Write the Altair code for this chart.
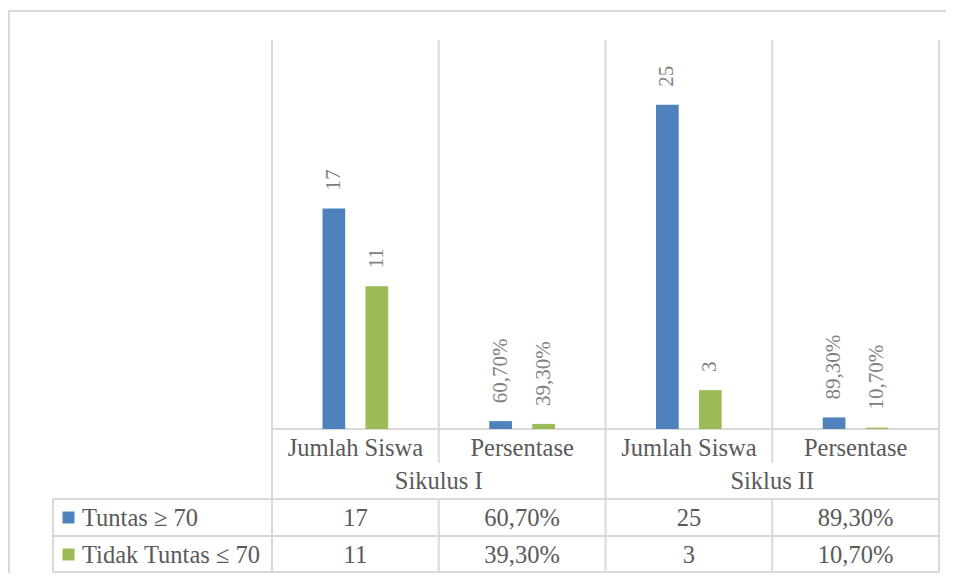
import altair as alt
import pandas as pd

# ---- data ----
siklus = ["Sikulus I", "Siklus II"]
kategori = ["Jumlah Siswa", "Persentase"]
series = ["Tuntas ≥ 70", "Tidak Tuntas ≤ 70"]
colors = ["#4F81BD", "#9BBB59"]
tuntas_values = [17, 0.607, 25, 0.893]
tidak_values = [11, 0.393, 3, 0.107]
tuntas_labels = ["17", "60,70%", "25", "89,30%"]
tidak_labels = ["11", "39,30%", "3", "10,70%"]

keys = [f"{s} | {k}" for s in siklus for k in kategori]
subcats = [k for s in siklus for k in kategori]
groups = [s for s in siklus for k in kategori]

rows = []
for i, key in enumerate(keys):
    for ser, vals, labs in ((series[0], tuntas_values, tuntas_labels),
                            (series[1], tidak_values, tidak_labels)):
        rows.append(dict(key=key, siklus=groups[i], kategori=subcats[i],
                         series=ser, value=vals[i], label=labs[i]))
df = pd.DataFrame(rows)
cats = pd.DataFrame(dict(key=keys, siklus=groups, kategori=subcats))
ser_df = pd.DataFrame(dict(series=series))
one = pd.DataFrame(dict(d=[0]))

# ---- styles ----
FONT = "Liberation Serif"
TXT = "#595959"
LBL = "#808080"
GRID = dict(color="#d9d9d9", strokeWidth=2)

x_scale = alt.Scale(domain=keys, range=[264, 931], paddingInner=0, paddingOuter=0)
y_scale = alt.Scale(domain=[0, 30], range=[421, 32], nice=False, zero=True)
off_scale = alt.Scale(domain=series, range=[50.5, 116.2], paddingInner=0.472, paddingOuter=0)
color_scale = alt.Scale(domain=series, range=colors)
row_scale = alt.Scale(domain=series, range=[491, 565], paddingInner=0, paddingOuter=0)


def X(bp=None):
    if bp is None:
        return alt.X("key:N", scale=x_scale, axis=None)
    return alt.X("key:N", scale=x_scale, axis=None, bandPosition=bp)


XO = alt.XOffset("series:N", scale=off_scale, sort=series)
Y = alt.Y("value:Q", scale=y_scale, axis=None)
ROW = alt.Y("series:N", scale=row_scale, axis=None, sort=series)

# ---- grid / frame lines ----
frame_top = alt.Chart(one).mark_rule(**GRID).encode(
    x=alt.value(0), x2=alt.value(938), y=alt.value(3))
frame_left = alt.Chart(one).mark_rule(**GRID).encode(
    x=alt.value(1), y=alt.value(3), y2=alt.value(565))
vr_upper = alt.Chart(cats).mark_rule(**GRID).encode(
    x=X(0), y=alt.value(32), y2=alt.value(455))
vr_mid = alt.Chart(cats).transform_filter(
    alt.datum.kategori == kategori[0]).mark_rule(**GRID).encode(
    x=X(0), y=alt.value(455), y2=alt.value(491))
vr_table = alt.Chart(cats).mark_rule(**GRID).encode(
    x=X(0), y=alt.value(491), y2=alt.value(565))
vr_end = alt.Chart(cats).transform_filter(
    alt.datum.key == keys[-1]).mark_rule(**GRID).encode(
    x=X(1), y=alt.value(32), y2=alt.value(565))
vr_tbl_left = alt.Chart(one).mark_rule(**GRID).encode(
    x=alt.value(45), y=alt.value(491), y2=alt.value(565))
baseline = alt.Chart(one).mark_rule(**GRID).encode(
    x=alt.value(264), x2=alt.value(931), y=alt.value(421))
hr_rows = alt.Chart(ser_df).mark_rule(**GRID).encode(
    y=alt.Y("series:N", scale=row_scale, axis=None, sort=series, bandPosition=0),
    x=alt.value(45), x2=alt.value(931))
hr_bottom = alt.Chart(one).mark_rule(**GRID).encode(
    y=alt.value(564), x=alt.value(45), x2=alt.value(931))

# ---- bars and labels ----
bars = alt.Chart(df).mark_bar().encode(
    x=X(), xOffset=XO, y=Y,
    color=alt.Color("series:N", scale=color_scale, legend=None))
labels = alt.Chart(df).mark_text(
    angle=270, align="left", baseline="middle", dx=18,
    font=FONT, fontSize=21, color=LBL).encode(
    x=X(), xOffset=XO, y=Y, text="label:N")

sub_lbl = alt.Chart(cats).mark_text(
    font=FONT, fontSize=24.5, color=TXT, baseline="alphabetic").encode(
    x=X(), y=alt.value(448), text="kategori:N")
grp_lbl = alt.Chart(cats).transform_filter(
    alt.datum.kategori == kategori[0]).mark_text(
    font=FONT, fontSize=24.5, color=TXT, baseline="alphabetic").encode(
    x=X(1), y=alt.value(481), text="siklus:N")

# ---- data table ----
cells = alt.Chart(df).mark_text(
    font=FONT, fontSize=24.5, color=TXT, baseline="alphabetic", dy=8.5).encode(
    x=X(), y=ROW, text="label:N")
swatch = alt.Chart(ser_df).mark_square(size=144, opacity=1).encode(
    x=alt.value(60.5), y=ROW,
    color=alt.Color("series:N", scale=color_scale, legend=None))
row_hdr = alt.Chart(ser_df).mark_text(
    font=FONT, fontSize=24.5, color=TXT, align="left", baseline="alphabetic",
    dy=8.5).encode(x=alt.value(74), y=ROW, text="series:N")

chart = alt.layer(
    frame_top, frame_left, vr_upper, vr_mid, vr_table, vr_end, vr_tbl_left,
    baseline, hr_rows, hr_bottom,
    bars, labels, sub_lbl, grp_lbl, cells, swatch, row_hdr,
).resolve_scale(y="independent").properties(
    width=938, height=565,
    autosize=alt.AutoSizeParams(type="none"),
    padding=0,
).configure_view(stroke=None)

chart.save("out.html", embed_options={"renderer": "svg", "actions": False})
